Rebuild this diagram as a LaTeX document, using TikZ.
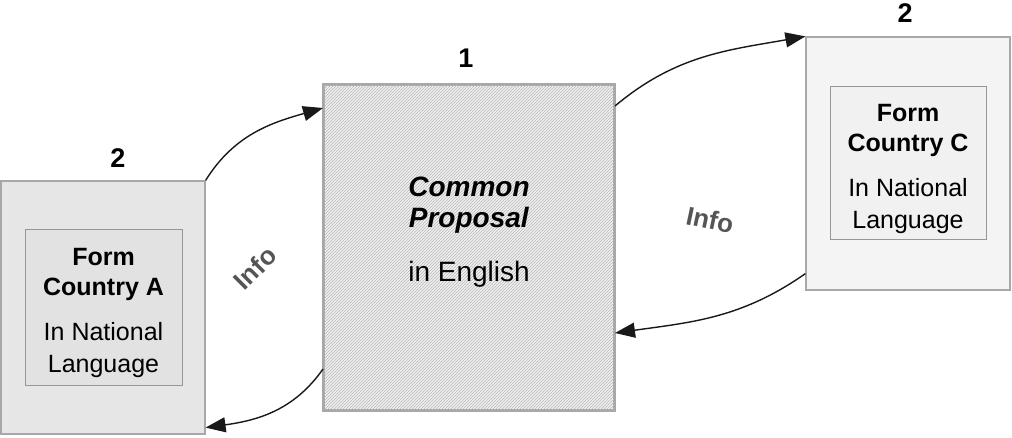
\documentclass[tikz,border=0pt]{standalone}
\usepackage{fontspec}
\setmainfont{Liberation Sans}
\usetikzlibrary{arrows.meta,patterns}
\definecolor{boxA}{HTML}{E6E6E6}
\definecolor{boxAin}{HTML}{E2E2E2}
\definecolor{boxC}{HTML}{F4F4F4}
\definecolor{boxCin}{HTML}{F1F1F1}
\definecolor{edgeg}{HTML}{A8A8A8}
\definecolor{infog}{HTML}{555555}
\tikzset{
  outerbox/.style={draw=edgeg, line width=1.2pt, inner sep=0pt},
  innerbox/.style={draw=edgeg!90!black, line width=1pt, inner sep=0pt, align=center,
     font=\fontsize{25}{30}\selectfont},
  numlabel/.style={font=\fontsize{27}{28}\selectfont\bfseries},
  infolabel/.style={font=\fontsize{26}{28}\selectfont\bfseries, text=infog},
  conn/.style={draw=black!90, line width=1.4pt, -{Triangle[length=20pt,width=15pt]}}
}
\begin{document}
\begin{tikzpicture}[x=1pt,y=1pt]
\useasboundingbox (0,0) rectangle (1012,437);
% Box A
\node[outerbox, fill=boxA, minimum width=204pt, minimum height=253pt] (A) at (103,129.5) {};
\node[innerbox, fill=boxAin, minimum width=157pt, minimum height=155pt] (Ain) at (103.5,129.5) {};
\node[align=center, font=\fontsize{25}{30}\selectfont] (At) at (103.5,124.5)
  {\textbf{Form}\\\textbf{Country A}\\[15pt]In National\\[2pt]Language};
\node[numlabel] (nA) at (118,279) {2};
% Center
\node[outerbox, draw=edgeg, line width=2pt, fill=gray!12, minimum width=290pt, minimum height=325pt] (P) at (469,189.5) {};
\fill[pattern=north east lines, pattern color=gray!55] (P.south west) rectangle (P.north east);
\draw[edgeg, line width=2pt] (P.south west) rectangle (P.north east);
\node[align=center, font=\fontsize{28}{31}\selectfont] (Pt) at (469,204.5)
  {\textbf{\textit{Common}}\\\textbf{\textit{Proposal}}\\[23pt]in English};
\node[numlabel] (nP) at (466,379) {1};
% Box C
\node[outerbox, fill=boxC, minimum width=204pt, minimum height=253pt] (C) at (908,273.5) {};
\node[innerbox, fill=boxCin, minimum width=156pt, minimum height=153pt] (Cin) at (908,273.5) {};
\node[align=center, font=\fontsize{25}{30}\selectfont] (Ct) at (908,268.5)
  {\textbf{Form}\\\textbf{Country C}\\[15pt]In National\\[2pt]Language};
\node[numlabel] (nC) at (905,424) {2};
% Connectors
\coordinate (a1) at (A.north east);
\coordinate (p1) at ([yshift=-24pt]P.north west);
\coordinate (p2) at ([yshift=42pt]P.south west);
\coordinate (a2) at ([yshift=7pt]A.south east);
\coordinate (p3) at ([yshift=-22pt]P.north east);
\coordinate (c1) at (C.north west);
\coordinate (c2) at ([yshift=17pt]C.south west);
\coordinate (p4) at ([yshift=78pt]P.south east);
\draw[conn] (a1) to[out=58, in=196] (p1);
\draw[conn] (p2) to[out=235, in=8] (a2);
\draw[conn] (p3) to[out=40, in=190] (c1);
\draw[conn] (c2) to[out=215, in=8] (p4);
% Info labels
\node[infolabel, rotate=45] (i1) at (255,169) {Info};
\node[infolabel, rotate=-12] (i2) at (710,217) {Info};
\end{tikzpicture}
\end{document}
